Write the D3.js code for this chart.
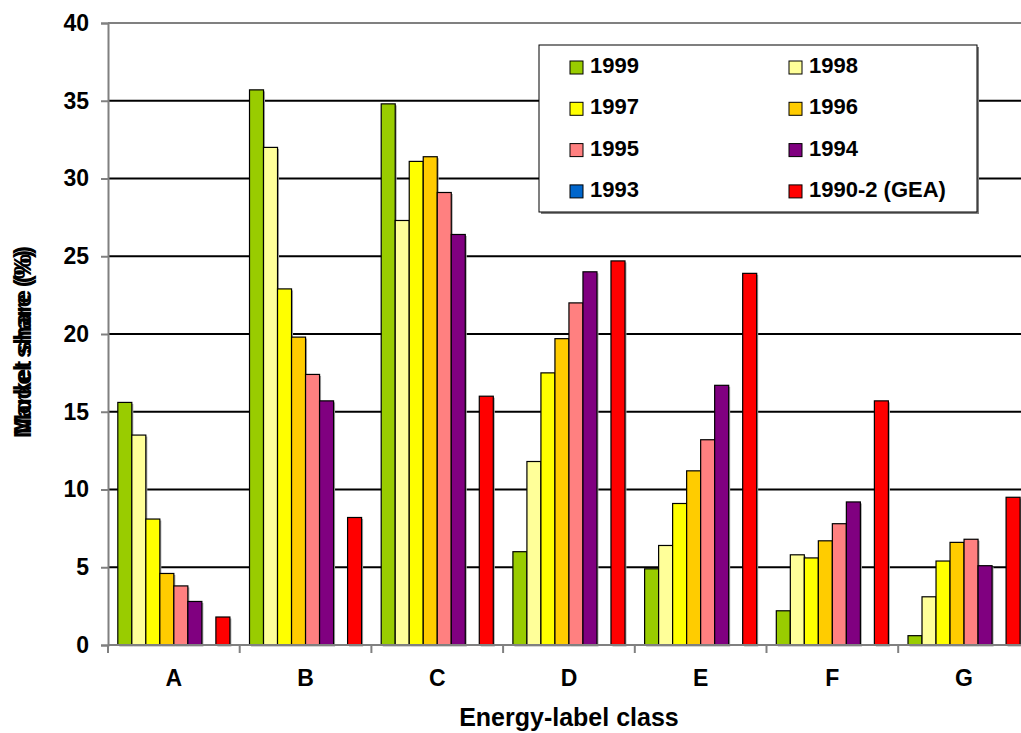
<!DOCTYPE html>
<html>
<head>
<meta charset="utf-8">
<script src="https://cdn.jsdelivr.net/npm/d3@7"></script>
<style>
  body { margin: 0; background: #fff; }
  svg { display: block; font-family: "Liberation Sans", Arial, sans-serif; font-weight: bold; }
</style>
</head>
<body>
<div id="chart"></div>
<script>
const categories = ["A", "B", "C", "D", "E", "F", "G"];
const seriesNames = ["1999", "1998", "1997", "1996", "1995", "1994", "1993", "1990-2 (GEA)"];
const seriesColors = ["#99cc00", "#ffff99", "#ffff00", "#ffcc00", "#ff8080", "#800080", "#0066cc", "#ff0000"];

// values per class A..G
const v1999 = [15.6, 35.7, 34.8, 6.0, 4.9, 2.2, 0.6];
const v1998 = [13.5, 32.0, 27.3, 11.8, 6.4, 5.8, 3.1];
const v1997 = [8.1, 22.9, 31.1, 17.5, 9.1, 5.6, 5.4];
const v1996 = [4.6, 19.8, 31.4, 19.7, 11.2, 6.7, 6.6];
const v1995 = [3.8, 17.4, 29.1, 22.0, 13.2, 7.8, 6.8];
const v1994 = [2.8, 15.7, 26.4, 24.0, 16.7, 9.2, 5.1];
const v1993 = [null, null, null, null, null, null, null];
const vGEA = [1.8, 8.2, 16.0, 24.7, 23.9, 15.7, 9.5];
const yTicks = [0, 5, 10, 15, 20, 25, 30, 35, 40];

const seriesValues = [v1999, v1998, v1997, v1996, v1995, v1994, v1993, vGEA];

const width = 1021;
const height = 733;
const margin = { left: 108, top: 23, bottom: 88 };
const catWidth = 131.7;

const svg = d3
  .select("#chart")
  .append("svg")
  .attr("width", width)
  .attr("height", height);

const x0 = d3
  .scaleBand()
  .domain(categories)
  .range([margin.left, margin.left + catWidth * categories.length])
  .padding(0);

const x1 = d3
  .scaleBand()
  .domain(seriesNames)
  .range([0, x0.bandwidth()])
  .paddingInner(0)
  .paddingOuter(0.7);

const y = d3
  .scaleLinear()
  .domain([0, 40])
  .range([height - margin.bottom, margin.top]);

// gridlines
svg
  .append("g")
  .selectAll("line")
  .data(yTicks.filter((t) => t > 0 && t < 40))
  .join("line")
  .attr("x1", margin.left)
  .attr("x2", width)
  .attr("y1", (d) => y(d))
  .attr("y2", (d) => y(d))
  .attr("stroke", "#000")
  .attr("stroke-width", 2);

// top border of plot area
svg
  .append("line")
  .attr("x1", margin.left)
  .attr("x2", width)
  .attr("y1", y(40))
  .attr("y2", y(40))
  .attr("stroke", "#808080")
  .attr("stroke-width", 2);

// bars
const rows = categories.map((c, i) => ({
  cat: c,
  vals: seriesNames.map((s, j) => ({ s: s, color: seriesColors[j], v: seriesValues[j][i] })),
}));

const groups = svg
  .append("g")
  .selectAll("g")
  .data(rows)
  .join("g")
  .attr("transform", (d) => `translate(${x0(d.cat)},0)`);

groups
  .selectAll("rect.shadow")
  .data((d) => d.vals.filter((e) => e.v != null))
  .join("rect")
  .attr("class", "shadow")
  .attr("x", (d) => x1(d.s) + 1.5)
  .attr("y", (d) => y(d.v) + 1.5)
  .attr("width", x1.bandwidth())
  .attr("height", (d) => y(0) - y(d.v))
  .attr("fill", "#aaa");

groups
  .selectAll("rect.bar")
  .data((d) => d.vals.filter((e) => e.v != null))
  .join("rect")
  .attr("class", "bar")
  .attr("x", (d) => x1(d.s))
  .attr("y", (d) => y(d.v))
  .attr("width", x1.bandwidth())
  .attr("height", (d) => y(0) - y(d.v))
  .attr("fill", (d) => d.color)
  .attr("stroke", "#000")
  .attr("stroke-width", 1.2);

// y axis
const yAxis = svg
  .append("g")
  .attr("transform", `translate(${margin.left},0)`)
  .call(d3.axisLeft(y).tickValues(yTicks).tickSize(7).tickPadding(12));

yAxis.select(".domain").attr("stroke", "#808080").attr("stroke-width", 2);
yAxis.selectAll(".tick line").attr("stroke", "#808080").attr("stroke-width", 2);
yAxis
  .selectAll(".tick text")
  .attr("fill", "#000")
  .style("font-size", "23px")
  .style("font-weight", "bold")
  .style("font-family", "Liberation Sans, Arial, sans-serif");

// x axis
const xAxis = svg
  .append("g")
  .attr("transform", `translate(0,${y(0)})`)
  .call(d3.axisBottom(x0).tickSize(0).tickPadding(25));

xAxis
  .select(".domain")
  .attr("d", `M${margin.left},0H${width}`)
  .attr("stroke", "#808080")
  .attr("stroke-width", 2);
xAxis
  .selectAll(".tick text")
  .attr("fill", "#000")
  .style("font-size", "23px")
  .style("font-weight", "bold")
  .style("font-family", "Liberation Sans, Arial, sans-serif");

// category separators below the axis
svg
  .append("g")
  .selectAll("line")
  .data(categories)
  .join("line")
  .attr("x1", (d) => x0(d))
  .attr("x2", (d) => x0(d))
  .attr("y1", y(0))
  .attr("y2", y(0) + 8)
  .attr("stroke", "#808080")
  .attr("stroke-width", 2);

// axis titles
svg
  .append("text")
  .attr("x", margin.left + (catWidth * categories.length) / 2)
  .attr("y", 726)
  .attr("text-anchor", "middle")
  .style("font-size", "25px")
  .text("Energy-label class");

["Market share (%)", "Model share (%)"].forEach((t) => {
  svg
    .append("text")
    .attr("transform", "translate(31,342) rotate(-90)")
    .attr("text-anchor", "middle")
    .style("font-size", "24px")
    .text(t);
});

// legend
const legend = svg.append("g").attr("transform", "translate(539,45)");

legend
  .append("rect")
  .attr("x", 2)
  .attr("y", 2)
  .attr("width", 438)
  .attr("height", 167)
  .attr("fill", "#808080");

legend
  .append("rect")
  .attr("width", 438)
  .attr("height", 167)
  .attr("fill", "#fff")
  .attr("stroke", "#000")
  .attr("stroke-width", 1);

const item = legend
  .selectAll("g.item")
  .data(seriesNames)
  .join("g")
  .attr("class", "item")
  .attr("transform", (d, i) => `translate(${i % 2 === 0 ? 31 : 250},${16 + Math.floor(i / 2) * 41.3})`);

item
  .append("rect")
  .attr("width", 13)
  .attr("height", 13)
  .attr("fill", (d, i) => seriesColors[i])
  .attr("stroke", "#000")
  .attr("stroke-width", 1);

item
  .append("text")
  .attr("x", 20)
  .attr("y", 12)
  .style("font-size", "22px")
  .text((d) => d);
</script>
</body>
</html>
